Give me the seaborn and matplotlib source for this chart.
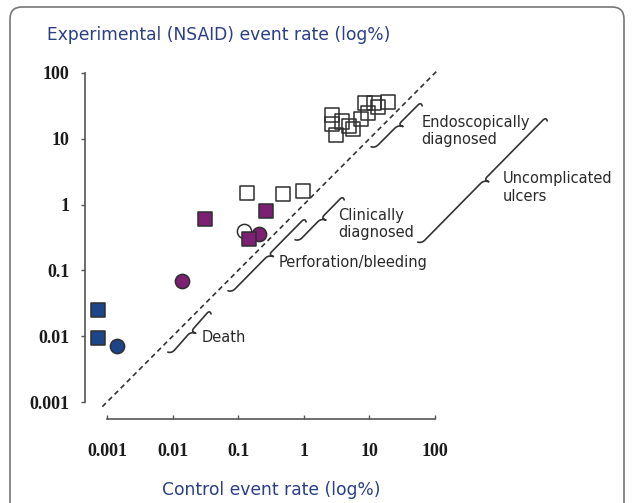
import numpy as np
import pandas as pd
import matplotlib
matplotlib.use('Agg')
import matplotlib.pyplot as plt
import seaborn as sns
from matplotlib.patches import FancyBboxPatch

# --- data (percent event rates) ---
death_sq_x = [0.00073, 0.00073]
death_sq_y = [0.025, 0.0094]
death_ci_x = [0.0014]
death_ci_y = [0.0071]

perf_ci_x = [0.0138, 0.21]
perf_ci_y = [0.070, 0.357]
perf_sq_x = [0.031, 0.265, 0.148]
perf_sq_y = [0.60, 0.80, 0.297]

clin_ci_x = [0.123]
clin_ci_y = [0.40]
clin_sq_x = [0.138, 0.487, 0.96]
clin_sq_y = [1.52, 1.43, 1.61]

endo_sq_x = [2.66, 2.66, 3.1, 3.78, 4.89, 5.56, 7.36, 8.57, 9.6, 11.7, 13.7, 19.4]
endo_sq_y = [22.8, 16.8, 11.4, 18.2, 15.8, 14.1, 19.8, 34.6, 24.9, 34.6, 30.7, 36.6]

diag = [0.00085, 110]

ticks = [0.001, 0.01, 0.1, 1, 10, 100]
tick_labels = ['0.001', '0.01', '0.1', '1', '10', '100']

# braces: (start, end, label, label position)
brace_names = ['Death', 'Perforation/bleeding', 'Clinically\ndiagnosed',
               'Endoscopically\ndiagnosed', 'Uncomplicated\nulcers']
brace_start = [(0.0097, 0.0055), (0.0805, 0.047), (0.845, 0.28), (12.2, 7.24), (62.7, 0.258)]
brace_end = [(0.037, 0.025), (1.04, 0.625), (3.96, 1.35), (61.2, 36.2), (4920, 21.4)]
label_pos = [(0.028, 0.0094), (0.419, 0.131), (3.32, 0.507), (62.7, 13.1), (1076, 1.82)]

blue = '#1d4688'
purple = '#7d1f72'
edge = '#2e2e2e'
navy = '#2b3f86'

sns.set_style('ticks')
fig = plt.figure(figsize=(6.33, 5.03), dpi=100)
ax = fig.add_axes([85/633, 1 - 419/503, 475/633, 379/503])
ax.set_xscale('log')
ax.set_yscale('log')
ax.set_xlim(10**-3.335, 10**3.905)
ax.set_ylim(10**-3.258, 10**2.50)

# diagonal line of identity
ax.plot(diag, diag, linestyle=(0, (3, 2.2)), color='#333333', lw=1.2, zorder=1)


def pts(xs, ys):
    return pd.DataFrame({'x': xs, 'y': ys})


groups = [
    (death_sq_x, death_sq_y, 's', blue),
    (death_ci_x, death_ci_y, 'o', blue),
    (clin_ci_x, clin_ci_y, 'o', 'white'),
    (perf_ci_x, perf_ci_y, 'o', purple),
    (perf_sq_x, perf_sq_y, 's', purple),
    (clin_sq_x, clin_sq_y, 's', 'white'),
    (endo_sq_x, endo_sq_y, 's', 'none'),
]
for gx, gy, mk, fc in groups:
    sns.scatterplot(data=pts(gx, gy), x='x', y='y', marker=mk, s=105,
                    color=edge, facecolor=fc, edgecolor=edge, linewidth=1.1,
                    ax=ax, zorder=3, legend=False)


def qbez(p0, p1, p2, n=14):
    t = np.linspace(0, 1, n)[:, None]
    return (1 - t)**2 * p0 + 2 * (1 - t) * t * p1 + t**2 * p2


def brace(ax, a, b, hook=0.06, cusp=0.08, r=0.07):
    a = np.log10(np.array(a, dtype=float))
    b = np.log10(np.array(b, dtype=float))
    u = (b - a) / np.linalg.norm(b - a)
    mid = (a + b) / 2
    tip0 = a + hook * np.array([-1.0, 0.3])
    tip1 = b + hook * np.array([0.3, -1.0])
    ctip = mid + cusp * np.array([0.95, -0.3])
    path = np.vstack([
        qbez(tip0, a, a + u * r),
        qbez(mid - u * r, mid, ctip),
        qbez(ctip, mid, mid + u * r),
        qbez(b - u * r, b, tip1),
    ])
    ax.plot(10**path[:, 0], 10**path[:, 1], color='#333333', lw=1.2,
            clip_on=False, zorder=2)


for name, a, b, lp in zip(brace_names, brace_start, brace_end, label_pos):
    brace(ax, a, b)
    ax.text(lp[0], lp[1], name, ha='left', va='center', fontsize=10.5,
            color='#2a2a2a', family='DejaVu Sans', linespacing=1.2, clip_on=False)

# axes styling
for side in ['top', 'right']:
    ax.spines[side].set_visible(False)
for side in ['left', 'bottom']:
    ax.spines[side].set_color('#555555')
    ax.spines[side].set_linewidth(1.2)
ax.spines['left'].set_bounds(0.001, 100)
ax.spines['bottom'].set_bounds(0.001, 100)

ax.set_xticks(ticks, tick_labels)
ax.set_yticks(ticks, tick_labels)
ax.minorticks_off()
ax.tick_params(axis='x', direction='in', length=3, width=1, color='#555555', pad=17)
ax.tick_params(axis='y', direction='out', length=3, width=1, color='#555555', pad=8)
for lab in ax.get_xticklabels() + ax.get_yticklabels():
    lab.set_fontfamily('Liberation Serif')
    lab.set_fontweight('bold')
    lab.set_fontsize(13)
    lab.set_color('#1a1a1a')
ax.set_xlabel('')
ax.set_ylabel('')
ax.patch.set_alpha(0)

fig.text(47/633, 1 - 35/503, 'Experimental (NSAID) event rate (log%)', ha='left', va='center',
         fontsize=12.3, color=navy, family='DejaVu Sans')
fig.text(271/633, 1 - 490/503, 'Control event rate (log%)', ha='center', va='center',
         fontsize=12.3, color=navy, family='DejaVu Sans')

frame = FancyBboxPatch((10, -20), 614, 516, boxstyle='round,pad=0,rounding_size=12',
                       transform=None, fill=False, edgecolor='#777777', linewidth=1.2)
fig.patches.append(frame)

fig.savefig('out.png', dpi=100)
